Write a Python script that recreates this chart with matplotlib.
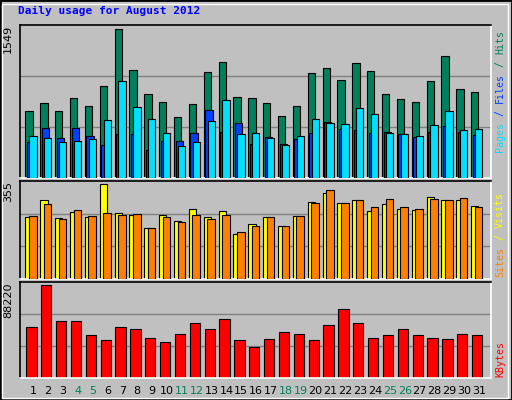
import matplotlib
matplotlib.use("Agg")
import matplotlib.pyplot as plt
from matplotlib.patches import Rectangle
import numpy as np

days = list(range(1, 32))
weekends = [4, 5, 11, 12, 18, 19, 25, 26]
hits = [697, 781, 697, 834, 750, 960, 1549, 1128, 876, 792, 634, 771, 1107, 1213, 845, 834,
        781, 645, 750, 1097, 1149, 1023, 1202, 1118, 876, 824, 792, 1013, 1276, 929, 897]
files = [371, 526, 414, 519, 435, 340, 456, 456, 287, 382, 382, 466, 708, 477, 571, 350,
         424, 350, 403, 466, 582, 508, 498, 466, 477, 456, 424, 477, 540, 477, 445]
pages = [435, 414, 371, 382, 403, 603, 1013, 739, 613, 466, 329, 371, 592, 813, 456, 466,
         414, 340, 435, 613, 571, 561, 729, 666, 466, 456, 435, 550, 697, 498, 508]
visits = [232, 293, 228, 251, 232, 355, 247, 240, 190, 240, 217, 263, 232, 255, 167, 205,
          232, 197, 236, 286, 320, 282, 293, 255, 278, 263, 259, 305, 293, 293, 274]
sites = [236, 278, 224, 259, 236, 247, 240, 244, 190, 232, 213, 240, 224, 240, 174, 197,
         232, 197, 236, 282, 332, 282, 293, 267, 297, 267, 263, 297, 293, 301, 267]
kbytes = [48618, 88220, 54413, 54413, 40890, 36061, 48618, 46686, 37992, 34129, 41856, 52481,
          46686, 55379, 36061, 29299, 37027, 43788, 41856, 36061, 50549, 65038, 52481, 37992,
          40890, 46686, 40890, 37992, 37027, 41856, 40890]

W, H = 512, 400
fig = plt.figure(figsize=(W/100, H/100), dpi=100, facecolor='#c0c0c0')
BG = '#c0c0c0'
mono = 'DejaVu Sans Mono'

fig.patches.append(Rectangle((0, 0), 1, 1, transform=fig.transFigure, fill=False,
                             edgecolor='black', lw=2))
fig.patches.append(Rectangle((2/W, 2/H), (W-6)/W, (H-6)/H, transform=fig.transFigure,
                             fill=False, edgecolor='white', lw=1))

def ax_px(x0, y0, x1, y1):
    return fig.add_axes([x0/W, 1-y1/H, (x1-x0)/W, (y1-y0)/H])

x = np.array(days)
xl = (1 - (33.3-20)/14.87, 31 + (491-479)/14.87)

def style(ax, top):
    ax.set_facecolor(BG)
    ax.set_xlim(*xl)
    ax.set_ylim(0, top)
    ax.set_xticks([]); ax.set_yticks([])
    for y in (1/3, 2/3):
        ax.axhline(y*top, color='#808080', lw=1, zorder=0)
    for s in ('left', 'top'):
        ax.spines[s].set_color('black')
    for s in ('right', 'bottom'):
        ax.spines[s].set_color('white')
    for s in ax.spines.values():
        s.set_linewidth(1.2)

ec = dict(edgecolor='black', linewidth=0.8)

ax1 = ax_px(20, 25, 491, 178)
top1 = 1549*1.03
style(ax1, top1)
ax1.bar(x - 0.53, hits, width=0.49, align='edge', color='#00805c', **ec, zorder=2)
ax1.bar(x - 0.42, files, width=0.49, align='edge', color='#0040ff', **ec, zorder=3)
ax1.bar(x - 0.27, pages, width=0.49, align='edge', color='#00e0ff', **ec, zorder=4)

ax2 = ax_px(20, 181, 491, 279)
top2 = 355*1.03
style(ax2, top2)
ax2.bar(x - 0.53, visits, width=0.49, align='edge', color='#ffff00', **ec, zorder=2)
ax2.bar(x - 0.29, sites, width=0.51, align='edge', color='#ff8000', **ec, zorder=3)

ax3 = ax_px(20, 282, 491, 378)
top3 = 88220*1.03
style(ax3, top3)
ax3.bar(x - 0.47, kbytes, width=0.69, align='edge', color='#ff0000', **ec, zorder=2)

for d in days:
    ax3.text(d, -0.08, str(d), transform=ax3.get_xaxis_transform(), ha='center', va='top',
             fontsize=8, family='DejaVu Sans',
             color='#00805c' if d in weekends else 'black')

fig.text(18/W, 1-11/H, 'Daily usage for August 2012', color='#0000ff', fontsize=8,
         family=mono, weight='bold', va='center', ha='left')

for ax, lab in ((ax1, '1549'), (ax2, '355'), (ax3, '88220')):
    ax.text(-0.015, 1, lab, transform=ax.transAxes, rotation=90, ha='right', va='top',
            fontsize=8, family='DejaVu Sans')

def right_label(ypix_bottom, parts):
    y = ypix_bottom
    cw = 6.1
    for t, c in parts:
        fig.text(500/W, 1 - y/H, t, rotation=90, color=c, fontsize=7.2, family=mono,
                 ha='center', va='bottom')
        y -= cw*len(t)

right_label(152, [('Pages', '#00e0ff'), (' / ', '#0040ff'), ('Files', '#0040ff'),
                  (' / ', '#00805c'), ('Hits', '#00805c')])
right_label(277, [('Sites', '#ff8000'), (' / ', '#ffff00'), ('Visits', '#ffff00')])
right_label(377, [('KBytes', '#ff0000')])

fig.savefig('out.png', dpi=100, facecolor=fig.get_facecolor())
